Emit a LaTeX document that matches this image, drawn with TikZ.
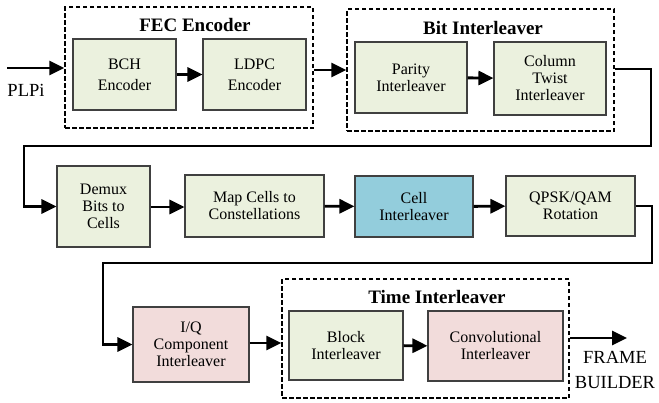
\documentclass[tikz,border=0pt]{standalone}
\usepackage{fontspec}
\setmainfont{Liberation Serif}
\usetikzlibrary{arrows.meta}
\definecolor{boxgreen}{HTML}{EBF1DE}
\definecolor{boxblue}{HTML}{93CDDC}
\definecolor{boxpink}{HTML}{F2DCDB}
\begin{document}
\begin{tikzpicture}[x=1pt,y=-1pt,
  blk/.style={draw=black!75, line width=1.1pt, fill=boxgreen, align=center, inner sep=0pt,
    font=\fontsize{16}{17}\selectfont},
  grp/.style={draw=black, dashed, dash pattern=on 4.5pt off 2.5pt, line width=1.5pt, inner sep=0pt},
  ttl/.style={font=\fontsize{19}{21}\selectfont\bfseries, inner sep=0pt},
  lbl/.style={font=\fontsize{18.5}{25}\selectfont, align=center, inner sep=0pt},
  arr/.style={line width=2.9pt, -{Triangle[length=15pt,width=14pt]}},
  lin/.style={line width=2.9pt}
]
\useasboundingbox (0,0) rectangle (659,402);
% groups
\node[grp, minimum width=248pt, minimum height=121pt] (fec) at (189,67.5) {};
\node[grp, minimum width=267pt, minimum height=122pt] (bit) at (480.5,70) {};
\node[grp, minimum width=287pt, minimum height=119pt] (time) at (425.5,338.5) {};
\node[ttl] (fect) at (195,25) {FEC Encoder};
\node[ttl] (bitt) at (483,28) {Bit Interleaver};
\node[ttl] (timet) at (437,297) {Time Interleaver};
% blocks
\node[blk, minimum width=103pt, minimum height=71pt, font=\fontsize{16}{21}\selectfont] (bch) at (124.5,74.5) {BCH\\Encoder};
\node[blk, minimum width=103pt, minimum height=71pt, font=\fontsize{16}{21}\selectfont] (ldpc) at (254.5,74.5) {LDPC\\Encoder};
\node[blk, minimum width=112pt, minimum height=71pt] (parity) at (411,77.5) {Parity\\Interleaver};
\node[blk, minimum width=112pt, minimum height=73pt] (column) at (550,78.5) {Column\\Twist\\Interleaver};
\node[blk, minimum width=93pt, minimum height=81pt] (demux) at (103.5,206.5) {Demux\\Bits to\\Cells};
\node[blk, minimum width=139pt, minimum height=62pt] (map) at (254.5,206) {Map Cells to\\Constellations};
\node[blk, fill=boxblue, minimum width=118pt, minimum height=61pt] (cell) at (414,206.5) {Cell\\Interleaver};
\node[blk, minimum width=129pt, minimum height=60pt] (qpsk) at (570.5,206) {QPSK/QAM\\Rotation};
\node[blk, fill=boxpink, minimum width=116pt, minimum height=75pt] (iq) at (191,344.5) {I/Q\\Component\\Interleaver};
\node[blk, minimum width=114pt, minimum height=69pt] (block) at (346,345.5) {Block\\Interleaver};
\node[blk, fill=boxpink, minimum width=135pt, minimum height=70pt] (conv) at (495.5,346) {Convolutional\\Interleaver};
% labels
\node[lbl] (plpi) at (26,90) {PLPi};
\node[lbl] (fb) at (615,370) {FRAME\\BUILDER};
% coordinates
\coordinate (in) at (7,68);
\coordinate (r1) at (651,146);
\coordinate (l1) at (24,146);
\coordinate (r2) at (652,263);
\coordinate (l2) at (103,263);
\coordinate (out) at (627,338);
% connectors
\draw[arr] (in) -- (in -| fec.west);
\draw[arr] (bch) -- (ldpc);
\draw[arr] (fec.east |- 0,70) -- (bit.west |- 0,70);
\draw[arr] (parity) -- (column);
\draw[arr] (bit.east |- 0,69) -| (r1) -- (l1) |- (demux.west);
\draw[arr] (demux.east |- 0,207) -- (map.west |- 0,207);
\draw[arr] (map) -- (cell);
\draw[arr] (cell) -- (qpsk);
\draw[arr] (qpsk.east) -| (r2) -- (l2) |- (iq.west);
\draw[arr] (iq.east |- 0,343) -- (time.west |- 0,343);
\draw[arr] (block) -- (conv);
\draw[arr] (time.east |- 0,338) -- (out);
\end{tikzpicture}
\end{document}
